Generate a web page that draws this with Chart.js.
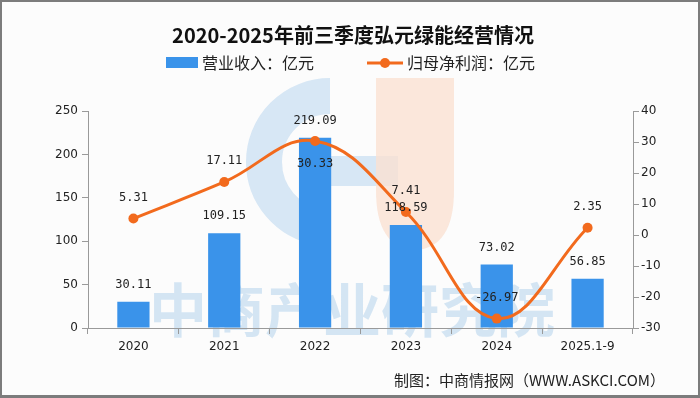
<!DOCTYPE html>
<html>
<head>
<meta charset="utf-8">
<script src="https://cdn.jsdelivr.net/npm/chart.js@4.4.1/dist/chart.umd.min.js"></script>
<style>
    html, body { margin: 0; padding: 0; background: #fff; }
    #chart { display: block; }
</style>
</head>
<body>
<canvas id="chart" width="700" height="398"></canvas>
<script>
// Data
const years = ['2020', '2021', '2022', '2023', '2024', '2025.1-9'];
const revenue = [30.11, 109.15, 219.09, 118.59, 73.02, 56.85];
const netProfit = [5.31, 17.11, 30.33, 7.41, -26.97, 2.35];
const revenueLabel = '营业收入：亿元';
const profitLabel = '归母净利润：亿元';
const titleText = '2020-2025年前三季度弘元绿能经营情况';
const sourceText = '制图：中商情报网（WWW.ASKCI.COM）';

const BLUE = '#3a93ea';
const ORANGE = '#f26a1d';
const CJK = '"Noto Sans CJK SC", "Noto Sans", sans-serif';

// Background, frame and the faint watermark behind the marks
const backdrop = {
    id: 'backdrop',
    beforeDraw(chart) {
        const ctx = chart.ctx;
        const w = chart.width, h = chart.height;
        ctx.save();
        ctx.fillStyle = '#fcfcfc';
        ctx.fillRect(0, 0, w, h);
        ctx.strokeStyle = '#7c7c7c';
        ctx.lineWidth = 3;
        ctx.strokeRect(0.5, 0.5, w - 1, h - 2);

        // logo
        ctx.strokeStyle = 'rgba(205, 225, 242, 0.8)';
        ctx.lineWidth = 36;
        ctx.beginPath();
        ctx.arc(330, 162, 66, Math.PI * 1.5, Math.PI * 0.55, true);
        ctx.stroke();
        ctx.fillStyle = 'rgba(205, 225, 242, 0.8)';
        ctx.fillRect(318, 156, 80, 30);
        ctx.fillStyle = 'rgba(250, 225, 210, 0.8)';
        ctx.beginPath();
        ctx.moveTo(376, 78);
        ctx.lineTo(454, 78);
        ctx.lineTo(454, 190);
        ctx.quadraticCurveTo(454, 248, 415, 250);
        ctx.quadraticCurveTo(376, 248, 376, 190);
        ctx.closePath();
        ctx.fill();

        ctx.fillStyle = 'rgba(195, 220, 240, 0.7)';
        ctx.font = 'bold 58px ' + CJK;
        ctx.textAlign = 'center';
        ctx.textBaseline = 'middle';
        ctx.fillText('中商产业研究院', 352, 310);
        ctx.restore();
    }
};

// Value labels above bars and points
const valueLabels = {
    id: 'valueLabels',
    afterDatasetsDraw(chart, args, opts) {
        const ctx = chart.ctx;
        ctx.save();
        ctx.font = '12px "DejaVu Sans Mono", monospace';
        ctx.fillStyle = '#222';
        ctx.textAlign = 'center';
        ctx.textBaseline = 'middle';
        chart.data.datasets.forEach((ds, i) => {
            const meta = chart.getDatasetMeta(i);
            meta.data.forEach((el, j) => {
                let dy;
                if (ds.type === 'bar') dy = -17;
                else dy = opts.below.includes(j) ? 23 : -21;
                ctx.fillText(ds.data[j].toFixed(2), el.x, el.y + dy);
            });
        });
        ctx.restore();
    }
};

// Title, legend and source line
const headings = {
    id: 'headings',
    afterDraw(chart) {
        const ctx = chart.ctx;
        ctx.save();
        ctx.textBaseline = 'middle';
        ctx.textAlign = 'center';
        ctx.fillStyle = '#111';
        ctx.font = 'bold 20px ' + CJK;
        ctx.fillText(titleText, 353, 35);

        ctx.textAlign = 'left';
        ctx.font = '16px ' + CJK;
        ctx.fillStyle = BLUE;
        ctx.fillRect(166, 57, 32, 11);
        ctx.fillStyle = '#222';
        ctx.fillText(revenueLabel, 202, 63);

        ctx.strokeStyle = ORANGE;
        ctx.lineWidth = 3;
        ctx.beginPath();
        ctx.moveTo(367, 63);
        ctx.lineTo(403, 63);
        ctx.stroke();
        ctx.fillStyle = ORANGE;
        ctx.beginPath();
        ctx.arc(385, 63, 5, 0, Math.PI * 2);
        ctx.fill();
        ctx.fillStyle = '#222';
        ctx.fillText(profitLabel, 407, 63);

        ctx.textAlign = 'right';
        ctx.font = '15px ' + CJK;
        ctx.fillText(sourceText, 665, 380);
        ctx.restore();
    }
};

const axisColor = '#9a9a9a';
const tickFont = { family: '"DejaVu Sans", sans-serif', size: 12 };

new Chart(document.getElementById('chart'), {
    data: {
        labels: years,
        datasets: [
            {
                type: 'line',
                label: profitLabel,
                data: netProfit,
                yAxisID: 'y1',
                borderColor: ORANGE,
                backgroundColor: ORANGE,
                borderWidth: 3,
                pointRadius: 5,
                pointBorderWidth: 0,
                tension: 0.4,
                order: 1
            },
            {
                type: 'bar',
                label: revenueLabel,
                data: revenue,
                yAxisID: 'y',
                backgroundColor: BLUE,
                categoryPercentage: 1,
                barPercentage: 0.355,
                order: 2
            }
        ]
    },
    options: {
        responsive: false,
        animation: false,
        layout: { padding: { top: 111, left: 0, right: 0, bottom: 0 } },
        plugins: {
            legend: { display: false },
            tooltip: { enabled: false },
            valueLabels: { below: [2] }
        },
        scales: {
            x: {
                grid: { drawOnChartArea: false, drawTicks: true, tickLength: 6, color: axisColor },
                border: { color: axisColor },
                ticks: { color: '#222', font: tickFont, padding: 6 },
                afterFit(s) { s.height = 70; }
            },
            y: {
                position: 'left',
                min: 0, max: 250,
                ticks: { stepSize: 50, color: '#222', font: tickFont, padding: 4 },
                grid: { drawOnChartArea: false, tickLength: 6, color: axisColor },
                border: { color: axisColor },
                afterFit(s) { s.width = 88; }
            },
            y1: {
                position: 'right',
                min: -30, max: 40,
                ticks: { stepSize: 10, color: '#222', font: tickFont, padding: 2 },
                grid: { drawOnChartArea: false, tickLength: 6, color: axisColor },
                border: { color: axisColor },
                afterFit(s) { s.width = 67; }
            }
        }
    },
    plugins: [backdrop, valueLabels, headings]
});
</script>
</body>
</html>
